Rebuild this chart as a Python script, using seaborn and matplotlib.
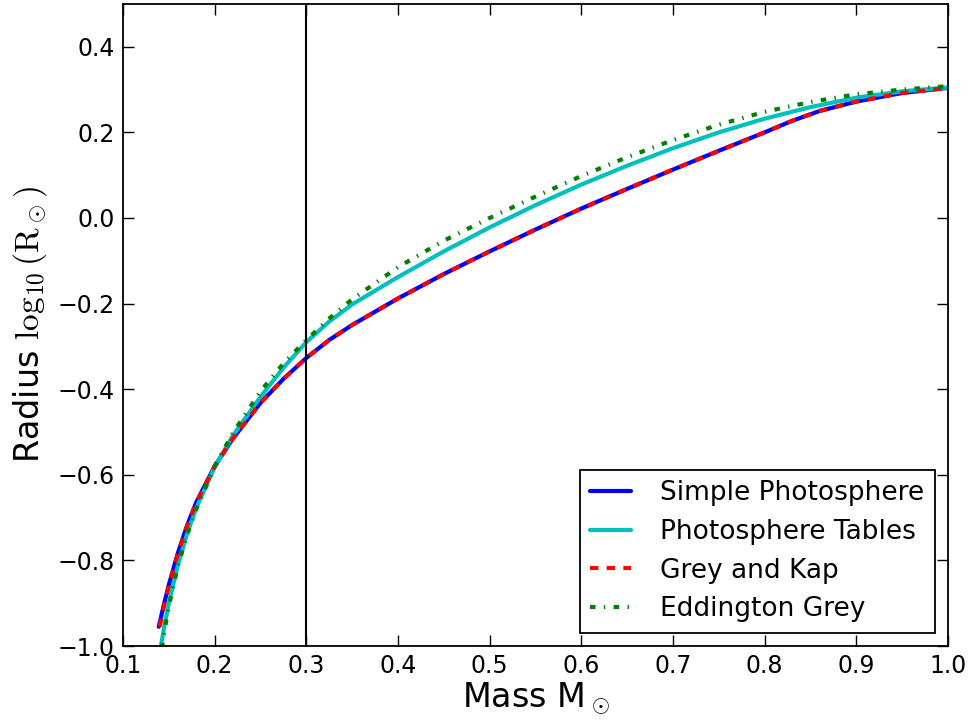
import matplotlib
matplotlib.use("Agg")
import matplotlib.pyplot as plt
import seaborn as sns

# Mass (solar masses) and log10 radius
mass_simple = [0.139, 0.145, 0.15, 0.16, 0.17, 0.18, 0.2, 0.22, 0.25, 0.275, 0.3, 0.325, 0.35,
               0.4, 0.45, 0.5, 0.55, 0.6, 0.65, 0.7, 0.75, 0.8, 0.83, 0.86, 0.9, 0.95, 1.0]
radius_simple = [-0.955, -0.9, -0.857, -0.782, -0.718, -0.664, -0.58, -0.515, -0.432, -0.376,
                 -0.327, -0.285, -0.25, -0.188, -0.131, -0.078, -0.027, 0.022, 0.068, 0.113,
                 0.157, 0.2, 0.227, 0.25, 0.272, 0.292, 0.304]

mass_tables = [0.141, 0.145, 0.15, 0.16, 0.17, 0.18, 0.2, 0.22, 0.25, 0.275, 0.3, 0.325, 0.35,
               0.4, 0.45, 0.5, 0.55, 0.6, 0.65, 0.7, 0.75, 0.8, 0.85, 0.9, 0.95, 1.0]
radius_tables = [-1.005, -0.955, -0.9, -0.81, -0.737, -0.677, -0.582, -0.508, -0.418, -0.35,
                 -0.29, -0.242, -0.202, -0.138, -0.078, -0.022, 0.03, 0.078, 0.122, 0.163,
                 0.2, 0.232, 0.259, 0.281, 0.296, 0.305]

mass_greykap = [0.14, 0.145, 0.15, 0.16, 0.17, 0.18, 0.2, 0.22, 0.25, 0.275, 0.3, 0.325, 0.35,
                0.4, 0.45, 0.5, 0.55, 0.6, 0.65, 0.7, 0.75, 0.8, 0.83, 0.86, 0.9, 0.95, 1.0]
radius_greykap = [-0.955, -0.903, -0.859, -0.783, -0.719, -0.665, -0.58, -0.515, -0.432, -0.376,
                  -0.327, -0.285, -0.25, -0.188, -0.131, -0.078, -0.027, 0.022, 0.068, 0.113,
                  0.157, 0.2, 0.227, 0.25, 0.272, 0.292, 0.304]

mass_eddington = [0.1425, 0.145, 0.15, 0.16, 0.17, 0.18, 0.2, 0.22, 0.25, 0.275, 0.3, 0.325,
                  0.35, 0.4, 0.45, 0.5, 0.55, 0.6, 0.65, 0.7, 0.75, 0.8, 0.85, 0.9, 0.95, 1.0]
radius_eddington = [-1.005, -0.968, -0.907, -0.812, -0.74, -0.68, -0.58, -0.502, -0.405, -0.34,
                    -0.285, -0.235, -0.19, -0.115, -0.053, 0.0, 0.05, 0.098, 0.142, 0.182,
                    0.218, 0.248, 0.271, 0.289, 0.3, 0.308]

mass_cut = 0.3
x_ticks = [0.1, 0.2, 0.3, 0.4, 0.5, 0.6, 0.7, 0.8, 0.9, 1.0]
y_ticks = [-1.0, -0.8, -0.6, -0.4, -0.2, 0.0, 0.2, 0.4]

sns.set_theme(style="ticks")
plt.rcParams["font.family"] = ["DejaVu Sans"]
plt.rcParams["mathtext.fontset"] = "cm"
plt.rcParams["lines.scale_dashes"] = False
plt.rcParams["xtick.direction"] = "in"
plt.rcParams["ytick.direction"] = "in"
plt.rcParams["xtick.top"] = True
plt.rcParams["ytick.right"] = True
for key in ["text.color", "axes.labelcolor", "xtick.color", "ytick.color",
            "xtick.labelcolor", "ytick.labelcolor"]:
    plt.rcParams[key] = "black"

fig = plt.figure(figsize=(9.73, 7.21), dpi=100)
ax = fig.add_axes([0.1264, 0.104, 0.8479, 0.8905])

sns.lineplot(x=mass_simple, y=radius_simple, color="blue", lw=3, ax=ax,
             label="Simple Photosphere")
sns.lineplot(x=mass_tables, y=radius_tables, color="#00bfbf", lw=3, ax=ax,
             label="Photosphere Tables")
sns.lineplot(x=mass_greykap, y=radius_greykap, color="red", lw=3, ax=ax,
             linestyle=(0, (6, 6)), label="Grey and Kap")
sns.lineplot(x=mass_eddington, y=radius_eddington, color="green", lw=3, ax=ax,
             linestyle=(0, (4, 6, 1, 6)), label="Eddington Grey")
ax.axvline(mass_cut, color="black", lw=1.5)

ax.set_xlim(0.1, 1.0)
ax.set_ylim(-1.0, 0.5)
ax.set_xticks(x_ticks)
ax.set_yticks(y_ticks)
ax.set_xticklabels([f"{t:.1f}" for t in x_ticks])
ax.set_yticklabels([f"{t:.1f}".replace("-", "\u2212") for t in y_ticks])
ax.tick_params(axis="both", which="major", labelsize=17, length=8, width=1,
               color="black", labelcolor="black", pad=6)
for side in ax.spines.values():
    side.set_color("black")
    side.set_linewidth(1.3)

ax.set_xlabel(r"Mass M$_\odot$", fontsize=24, labelpad=2)
ax.set_ylabel(r"Radius $\log_{10}(\mathrm{R}_\odot)$", fontsize=24, labelpad=6)

leg = ax.legend(loc="lower right", fontsize=19, fancybox=False, framealpha=1,
                edgecolor="black", borderaxespad=0.5, handlelength=1.55,
                handletextpad=1.1, labelspacing=0.48, borderpad=0.4)
leg.get_frame().set_linewidth(1.3)
for txt in leg.get_texts():
    txt.set_color("black")

fig.savefig("out.png", dpi=100)
